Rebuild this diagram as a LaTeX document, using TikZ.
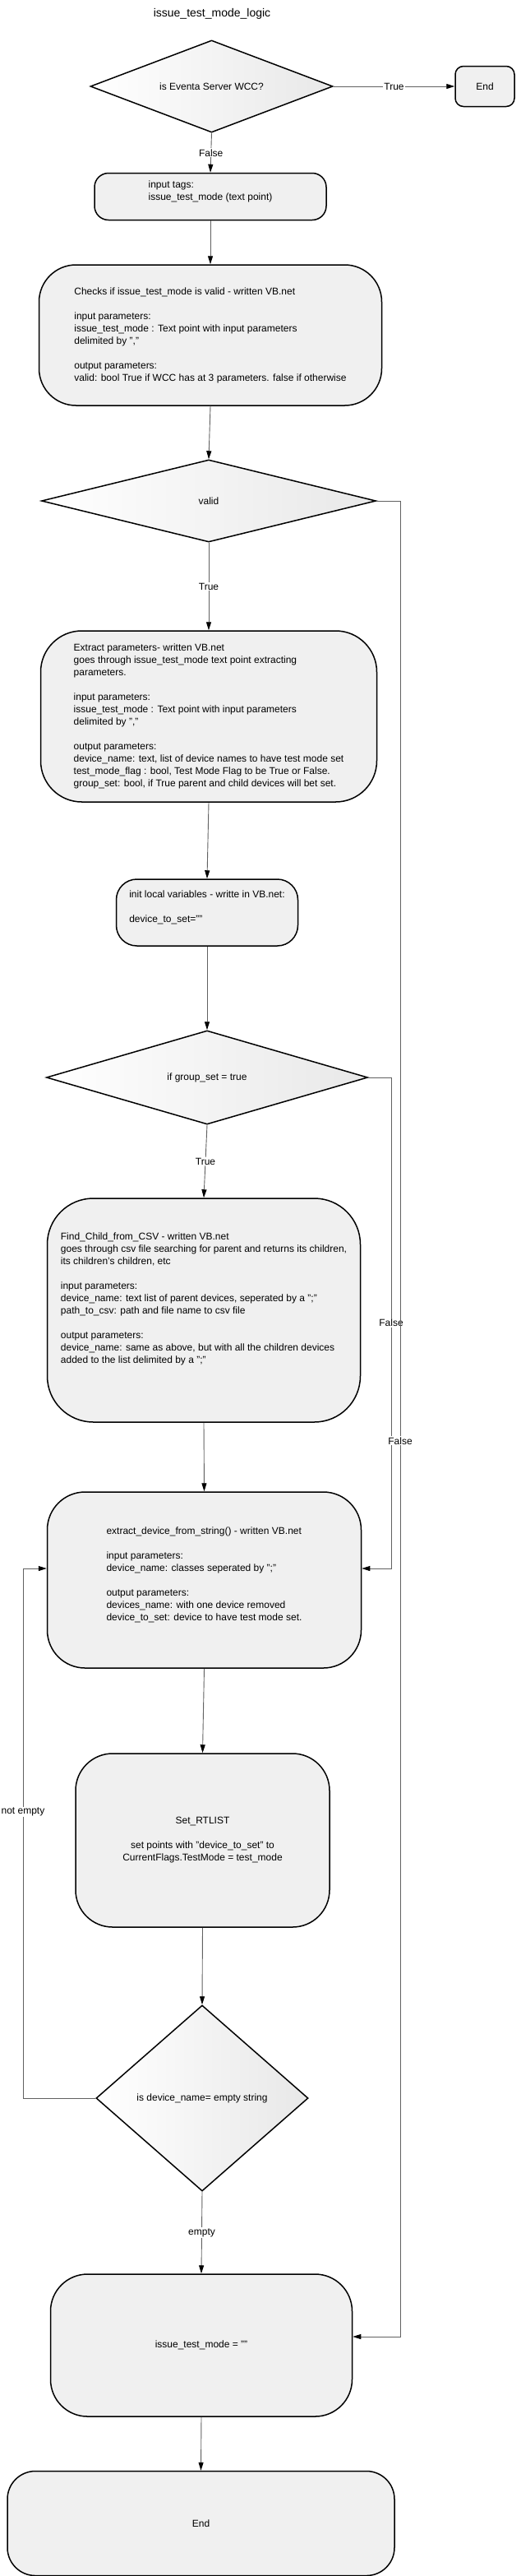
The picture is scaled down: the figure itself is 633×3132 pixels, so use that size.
\documentclass[tikz,border=0pt]{standalone}
\usepackage{fontspec}
\setmainfont{Liberation Sans}
\usetikzlibrary{positioning,arrows.meta,shapes.geometric}

\begin{document}
\begin{tikzpicture}[x=1pt,y=-1pt,
    font=\fontsize{12}{15}\selectfont,
    box/.style={draw,line width=1.5pt,fill=black!6,align=left,inner sep=0pt,
      rounded corners=#1pt},
    decision/.style={diamond,aspect=#1,draw,line width=1.5pt,left color=white,
      right color=black!9,inner sep=0pt,align=center},
    flow/.style={draw=black!62,line width=0.9pt,
      -{Triangle[length=10pt,width=6pt,color=black]}},
    lbl/.style={fill=white,inner sep=1pt}]
  \useasboundingbox (0,0) rectangle (633,3132);

  \node[font=\fontsize{14}{17}\selectfont] (title) at (258,17) {issue\_test\_mode\_logic};

  % top check
  \node[decision=2.63,minimum width=295pt,minimum height=112pt] (q1) at (257.5,105) {is Eventa Server WCC?};
  \node[box=10,align=center,minimum width=72pt,minimum height=49pt] (endA) at (590,105) {End};
  \node[box=17,minimum width=282pt,minimum height=57pt] (tags) at (256,239)
    {input tags:\\issue\_test\_mode (text point)\\ ~};
  \node[box=45,minimum width=417pt,minimum height=171pt] (check) at (256,407.5)
    {Checks if issue\_test\_mode is valid - written VB.net\\[15pt]
     input parameters:\\issue\_test\_mode : Text point with input parameters\\
     delimited by ","\\[15pt]
     output parameters:\\valid: bool True if WCC has at 3 parameters. false if otherwise};
  \node[decision=4.07,minimum width=407pt,minimum height=100pt] (valid) at (254,609) {valid};

  % parameters
  \node[box=50,minimum width=409pt,minimum height=208pt] (extract) at (254,871)
    {Extract parameters- written VB.net\\goes through issue\_test\_mode text point extracting\\
     parameters.\\[15pt]
     input parameters:\\issue\_test\_mode : Text point with input parameters\\
     delimited by ","\\[15pt]
     output parameters:\\device\_name: text, list of device names to have test mode set\\
     test\_mode\_flag : bool, Test Mode Flag to be True or False.\\
     group\_set: bool, if True parent and child devices will bet set.};
  \node[box=25,minimum width=221pt,minimum height=81pt] (init) at (252,1109.5)
    {init local variables - writte in VB.net:\\[15pt]device\_to\_set=""\\ ~};
  \node[decision=3.43,minimum width=391pt,minimum height=114pt] (group) at (252,1310) {if group\_set = true};
  \node[box=56,minimum width=381pt,minimum height=272pt] (findchild) at (248,1593)
    {Find\_Child\_from\_CSV - written VB.net\\
     goes through csv file searching for parent and returns its children,\\
     its children's children, etc\\[15pt]
     input parameters:\\device\_name: text list of parent devices, seperated by a ";"\\
     path\_to\_csv: path and file name to csv file\\[15pt]
     output parameters:\\device\_name: same as above, but with all the children devices\\
     added to the list delimited by a ";"\\[15pt]~};

  % device loop
  \node[box=46,minimum width=382pt,minimum height=214pt] (extdev) at (248.5,1921)
    {extract\_device\_from\_string() - written VB.net\\[15pt]
     input parameters:\\device\_name: classes seperated by ";"\\[15pt]
     output parameters:\\devices\_name: with one device removed\\
     device\_to\_set: device to have test mode set.\\ ~};
  \node[box=45,align=center,minimum width=309pt,minimum height=211pt] (setrt) at (246.5,2237.5)
    {Set\_RTLIST\\[15pt]set points with "device\_to\_set" to\\CurrentFlags.TestMode = test\_mode};
  \node[decision=1.14,minimum width=258pt,minimum height=226pt] (emptyq) at (246,2551) {is device\_name= empty string};
  \node[box=45,align=center,minimum width=367pt,minimum height=173pt] (clear) at (245,2851.5) {issue\_test\_mode = ""};
  \node[box=34,align=center,minimum width=471pt,minimum height=127pt] (endB) at (244.5,3068) {End};

  \coordinate (falseB) at (476,1907);
  \coordinate (falseA) at (487,2841);
  \coordinate (loopL) at (28,1907);

  \draw[flow] (q1.east) -- node[lbl] {True} (endA.west);
  \draw[flow] (q1.south) -- node[lbl] {False} (tags.north);
  \draw[flow] (tags.south) -- (check.north);
  \draw[flow] (check.south) -- (valid.north);
  \draw[flow] (valid.south) -- node[lbl] {True} (extract.north);
  \draw[flow] (extract.south) -- (init.north);
  \draw[flow] (init.south) -- (group.north);
  \draw[flow] (group.south) -- node[lbl] {True} (findchild.north);
  \draw[flow] (findchild.south) -- (extdev.north);
  \draw[flow] (extdev.south) -- (setrt.north);
  \draw[flow] (setrt.south) -- (emptyq.north);
  \draw[flow] (emptyq.south) -- node[lbl] {empty} (clear.north);
  \draw[flow] (clear.south) -- (endB.north);

  \draw[flow] (group.east) -| node[lbl,pos=0.75] {False} (falseB) -- (falseB -| extdev.east);
  \draw[flow] (valid.east) -| node[lbl,pos=0.756] {False} (falseA) -- (falseA -| clear.east);
  \draw[flow] (emptyq.west) -| node[lbl,pos=0.77] {not empty} (loopL) -- (loopL -| extdev.west);
\end{tikzpicture}
\end{document}
